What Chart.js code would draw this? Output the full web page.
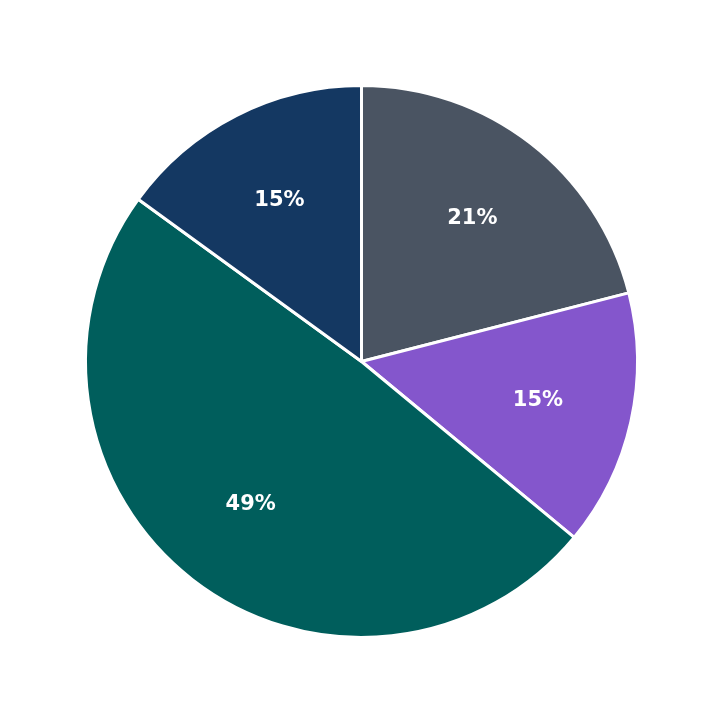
<!DOCTYPE html>
<html><head><meta charset="utf-8">
<script src="https://cdn.jsdelivr.net/npm/chart.js@4"></script>
<style>html,body{margin:0;padding:0;background:#fff}#w{width:723px;height:723px}</style>
</head><body><div id="w"><canvas id="c"></canvas></div>
<script>
const labels = ["A","B","C","D"];
const values = [21, 15, 49, 15];
const colors = ["#4a5462", "#8456cc", "#005e5c", "#143862"];
const pctLabels = ["21%", "15%", "49%", "15%"];

const labelPlugin = {
  id: 'pctLabels',
  afterDatasetsDraw(chart) {
    const ctx = chart.ctx;
    const meta = chart.getDatasetMeta(0);
    ctx.save();
    ctx.fillStyle = '#fff';
    ctx.font = 'bold 21px "DejaVu Sans"';
    ctx.textAlign = 'center';
    ctx.textBaseline = 'middle';
    meta.data.forEach((arc, i) => {
      const mid = (arc.startAngle + arc.endAngle) / 2;
      const r = arc.outerRadius * 0.655;
      ctx.fillText(pctLabels[i], arc.x + Math.cos(mid) * r, arc.y + Math.sin(mid) * r);
    });
    ctx.restore();
  }
};

new Chart(document.getElementById('c'), {
  type: 'pie',
  data: { labels, datasets: [{ data: values, backgroundColor: colors, borderColor: '#fff', borderWidth: 3 }] },
  options: {
    responsive: true, maintainAspectRatio: false, animation: false,
    layout: { padding: 84 },
    plugins: { legend: { display: false }, tooltip: { enabled: false } }
  },
  plugins: [labelPlugin]
});
</script></body></html>
